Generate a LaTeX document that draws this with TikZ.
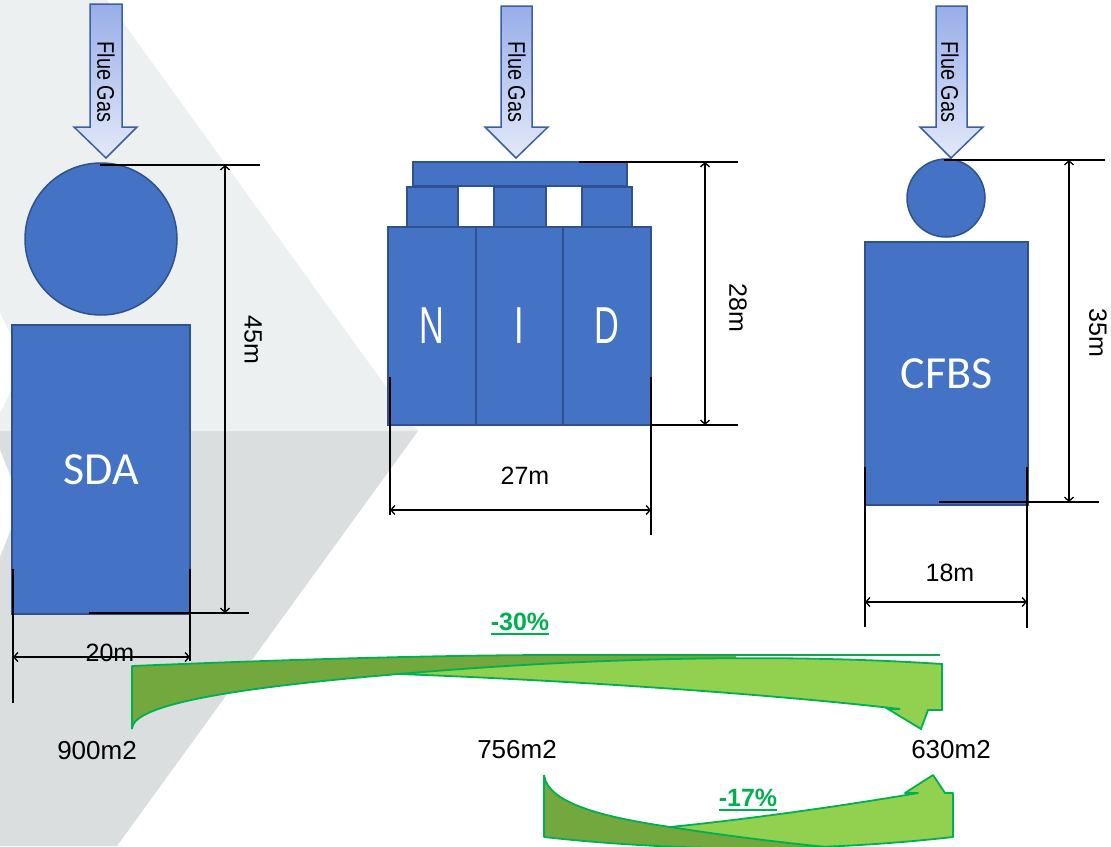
\documentclass[tikz,border=0pt]{standalone}
\usepackage{fontspec}
\setmainfont{Liberation Sans}
\newfontfamily\calfont{Carlito}
\usetikzlibrary{arrows.meta}
\definecolor{bgl}{HTML}{EDF0F0}
\definecolor{bgd}{HTML}{DBDEDF}
\definecolor{blu}{HTML}{4472C4}
\definecolor{bluedge}{HTML}{2F528F}
\definecolor{arrtop}{HTML}{98AEEA}
\definecolor{arrbot}{HTML}{E3E9F8}
\definecolor{arredge}{HTML}{3A5FA8}
\definecolor{gdark}{HTML}{72A83E}
\definecolor{glight}{HTML}{92D050}
\definecolor{gline}{HTML}{00B050}
\tikzset{
  blk/.style={fill=blu, draw=bluedge, line width=1.5, inner sep=0, outer sep=0, text=white},
  blkr/.style={blk, rectangle},
  blkc/.style={blk, circle},
  flue/.style={top color=arrtop, bottom color=arrbot, draw=arredge, line width=1.5},
  fluetxt/.style={rotate=-90, inner sep=0, font=\fontsize{24}{24}\selectfont},
  ext/.style={line width=2, black},
  tickl/.style={line width=2.5, black},
  dimarr/.style={line width=1.3, black, <->, >={Straight Barb[length=4pt,width=9pt]}},
  lbl/.style={inner sep=0, font=\fontsize{25}{25}\selectfont},
  vlbl/.style={lbl, rotate=-90},
  area/.style={inner sep=0, font=\fontsize{26}{26}\selectfont},
  gtxt/.style={inner sep=0, text=gline, font=\bfseries\fontsize{25}{25}\selectfont},
  gl/.style={draw=gline, line width=1.8, line join=round},
  bigtxt/.style={font=\calfont\fontsize{46}{46}\selectfont},
  nidtxt/.style={font=\fontsize{52}{52}\selectfont}
}
\begin{document}
\begin{tikzpicture}[x=1pt,y=-1pt]
\useasboundingbox (0,0) rectangle (1111,846);
\clip (0,0) rectangle (1111,846);
% background
\fill[bgl] (0,0) -- (107,0) -- (418,431) -- (0,431) -- cycle;
\fill[white] (0,313) -- (25,363) -- (0,413) -- cycle;
\fill[bgd] (0,431) -- (418,431) -- (117,846) -- (0,846) -- cycle;
\fill[white] (0,450) -- (21,503) -- (0,557) -- cycle;

% flue gas arrows
\shadedraw[flue] (90,4) -- (122,4) -- (122,127) -- (137,127) -- (106,158) -- (74,127) -- (90,127) -- cycle;
\shadedraw[flue] (501,6) -- (532,6) -- (532,127) -- (548,127) -- (516,158) -- (485,127) -- (501,127) -- cycle;
\shadedraw[flue] (936,6) -- (967,6) -- (967,127) -- (983,127) -- (951,158) -- (920,127) -- (936,127) -- cycle;
\node[fluetxt] (fg1) at (106,82) {\scalebox{0.83}[1]{Flue Gas}};
\node[fluetxt] (fg2) at (517,82) {\scalebox{0.83}[1]{Flue Gas}};
\node[fluetxt] (fg3) at (950,82) {\scalebox{0.83}[1]{Flue Gas}};

% SDA
\node[blkc, minimum size=152] (sdatop) at (101,239) {};
\node[blkr, minimum width=178, minimum height=289, bigtxt] (sda) at (101,469.5) {SDA};
% NID
\node[blkr, minimum width=214, minimum height=24] (nidtop) at (520,174) {};
\node[blkr, minimum width=51, minimum height=40] (nb1) at (432.5,207) {};
\node[blkr, minimum width=52, minimum height=40] (nb2) at (520,207) {};
\node[blkr, minimum width=50, minimum height=40] (nb3) at (607,207) {};
\node[blkr, minimum width=88, minimum height=198, nidtxt] (nn) at (432,326) {\scalebox{0.66}[1]{N}};
\node[blkr, minimum width=87, minimum height=198, nidtxt] (ni) at (519.5,326) {\scalebox{0.66}[1]{I}};
\node[blkr, minimum width=88, minimum height=198, nidtxt] (nd) at (607,326) {\scalebox{0.66}[1]{D}};
% CFBS
\node[blkc, minimum size=78] (cftop) at (946,198) {};
\node[blkr, minimum width=163, minimum height=263, bigtxt] (cfbs) at (946.5,373.5) {CFBS};

% dimension coordinates
\coordinate (a1) at (100,165); \coordinate (a2) at (260,165);
\coordinate (a3) at (89,613);  \coordinate (a4) at (249,613);
\coordinate (a5) at (225,165); \coordinate (a6) at (225,613);
\coordinate (w1) at (13,569);  \coordinate (w2) at (13,703);
\coordinate (w3) at (190,569); \coordinate (w4) at (190,661);
\coordinate (w5) at (13,657);  \coordinate (w6) at (190,657);

\coordinate (b1) at (579,162); \coordinate (b2) at (738,162);
\coordinate (b3) at (651,425); \coordinate (b4) at (738,425);
\coordinate (b5) at (705,162); \coordinate (b6) at (705,425);
\coordinate (x1) at (390,377); \coordinate (x2) at (390,515);
\coordinate (x3) at (651,377); \coordinate (x4) at (651,535);
\coordinate (x5) at (390,510); \coordinate (x6) at (651,510);

\coordinate (c1) at (944,160); \coordinate (c2) at (1105,160);
\coordinate (c3) at (939,502); \coordinate (c4) at (1099,502);
\coordinate (c5) at (1069,160); \coordinate (c6) at (1069,502);
\coordinate (y1) at (865,467); \coordinate (y2) at (865,627);
\coordinate (y3) at (1027,467); \coordinate (y4) at (1027,628);
\coordinate (y5) at (865,602); \coordinate (y6) at (1027,602);

\draw[ext] (a1) -- (a2); \draw[ext] (a3) -- (a4); \draw[dimarr] (a5) -- (a6);
\draw[tickl] (w1) -- (w2); \draw[tickl] (w3) -- (w4); \draw[dimarr] (w5) -- (w6);
\draw[ext] (b1) -- (b2); \draw[ext] (b3) -- (b4); \draw[dimarr] (b5) -- (b6);
\draw[tickl] (x1) -- (x2); \draw[tickl] (x3) -- (x4); \draw[dimarr] (x5) -- (x6);
\draw[ext] (c1) -- (c2); \draw[ext] (c3) -- (c4); \draw[dimarr] (c5) -- (c6);
\draw[tickl] (y1) -- (y2); \draw[tickl] (y3) -- (y4); \draw[dimarr] (y5) -- (y6);

\node[vlbl] (l45) at (253,340) {45m};
\node[lbl] (l20) at (110,653) {20m};
\node[vlbl] (l28) at (738,308) {28m};
\node[lbl] (l27) at (525,476) {27m};
\node[vlbl] (l35) at (1098,333) {35m};
\node[lbl] (l18) at (950,573) {18m};

% big green curved arrow (-30%)
\fill[gdark] (132,666) .. controls (300,659) and (450,655) .. (560,655) -- (736,655) -- (736,660) -- (399,674) .. controls (230,688) and (132,705) .. (132,729) -- cycle;
\draw[gl] (132,729) -- (132,666) .. controls (300,659) and (450,655) .. (560,655) -- (940,655);
\draw[gl] (132,729) .. controls (132,705) and (230,688) .. (399,674);
\filldraw[fill=glight, gl, line join=miter] (399,674) .. controls (560,680) and (760,693) .. (900,709) -- (888,709) -- (921,729) -- (928,710) -- (942,710) -- (942,664) .. controls (760,652) and (560,660) .. (399,674) -- cycle;

% small green curved arrow (-17%)
\begin{scope}
\clip (544,760) -- (544,837) .. controls (680,852) and (820,852) .. (953,837) -- (953,760) -- cycle;
\fill[gdark] (544,775) .. controls (548,805) and (610,818) .. (670,827) .. controls (740,838) and (810,846) .. (880,852) -- (880,900) -- (544,900) -- cycle;
\fill[glight] (670,827) .. controls (760,818) and (860,803) .. (918,793) -- (905,793) -- (933,775) -- (945,793) -- (953,793) -- (953,900) -- (880,900) -- (880,852) .. controls (810,846) and (740,838) .. (670,827) -- cycle;
\draw[gl] (544,775) .. controls (548,805) and (610,818) .. (670,827) .. controls (740,838) and (810,846) .. (880,852);
\end{scope}
\draw[gl] (544,775) -- (544,837) .. controls (680,852) and (820,852) .. (953,837) -- (953,793) -- (945,793) -- (933,775) -- (905,793) -- (918,793) .. controls (860,803) and (760,818) .. (670,827);

% labels
\node[area] (s900) at (97,751) {900m2};
\node[area] (s756) at (517,750) {756m2};
\node[area] (s630) at (951,750) {630m2};
\node[gtxt] (p30) at (520,622) {-30\%};
\draw[gline, line width=2.5] ([yshift=-3pt]p30.south west) -- ([yshift=-3pt]p30.south east);
\node[gtxt] (p17) at (748,798) {-17\%};
\draw[gline, line width=2.5] ([yshift=-3pt]p17.south west) -- ([yshift=-3pt]p17.south east);
\end{tikzpicture}
\end{document}
